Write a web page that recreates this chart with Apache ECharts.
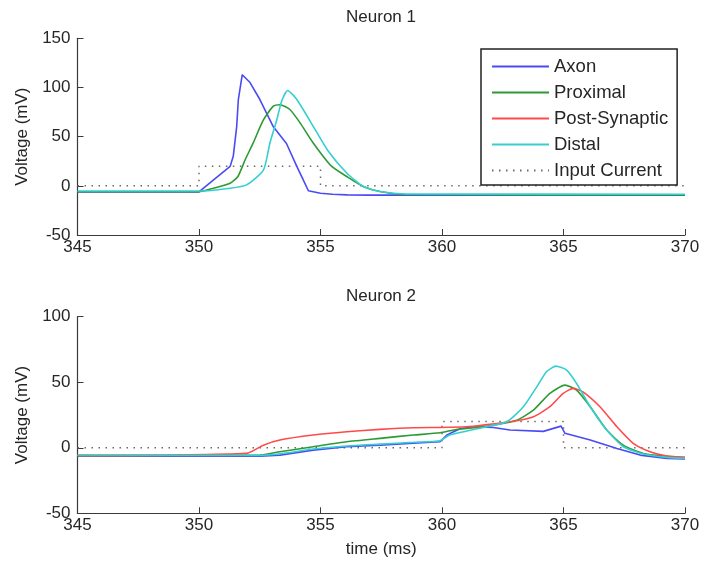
<!DOCTYPE html>
<html>
<head>
<meta charset="utf-8">
<script src="https://cdn.jsdelivr.net/npm/echarts@6/dist/echarts.min.js"></script>
<style>html,body{margin:0;padding:0;background:#fff;}#c{width:720px;height:565px;}</style>
</head>
<body>
<div id="c"></div>
<script>
// ---------- Neuron 1 ----------
var n1AxonT = [345, 350, 350.6, 351.28, 351.41, 351.55, 351.62, 351.78, 352.1, 352.5, 353.06, 353.6, 354.02, 354.29, 354.5, 355, 355.5, 356.1, 357, 360, 365, 370];
var n1AxonV = [-6.2, -6.2, 6, 19.7, 30, 60, 88, 113, 105, 88, 60, 43, 20, 6, -5, -7.5, -8.5, -9.2, -9.5, -9.5, -9.5, -9.5];
var n1ProxT = [345, 350, 350.6, 351.28, 351.6, 351.9, 352.23, 352.65, 353.06, 353.33, 353.74, 354.16, 354.7, 355.45, 356.08, 356.76, 357.45, 358.5, 370];
var n1ProxV = [-6, -6, -2.4, 2.7, 9.5, 26.5, 43.6, 67, 81, 82.5, 77.6, 64, 43.6, 20, 9.5, -0.7, -5.8, -8.8, -9.3];
var n1DistT = [345, 350, 351.28, 351.96, 352.65, 352.92, 353.2, 353.4, 353.65, 354.02, 354.7, 355.3, 356.08, 356.76, 357.45, 358.5, 370];
var n1DistV = [-5.3, -5.3, -2.4, 1, 16, 43.6, 67, 86, 97, 88, 60.5, 36, 13, -0.7, -5.8, -8.3, -8.5];
var n1InT = [345, 350, 350, 355, 355, 370];
var n1InV = [0, 0, 20, 20, 0, 0];

// ---------- Neuron 2 ----------
var n2AxonT = [345, 352.5, 353.33, 354.7, 356.08, 357.45, 358.82, 359.92, 360.2, 360.74, 361.3, 362.11, 362.8, 364.17, 364.9, 365.06, 366.1, 367.2, 368.15, 369.25, 370];
var n2AxonV = [-6.2, -6.5, -5.6, -1.8, 0.8, 2, 3.4, 4.6, 9.7, 14.5, 16, 15.5, 13.5, 12.5, 16.5, 11, 5.9, -0.5, -5.6, -8.1, -8.5];
var n2ProxT = [345, 352.5, 353.33, 354.7, 356.08, 357.45, 358.82, 359.92, 360.6, 361.7, 363.07, 363.76, 364.44, 365.06, 365.54, 366.1, 366.78, 367.46, 368.28, 369.25, 370];
var n2ProxV = [-6, -5.6, -3, 0.8, 4.6, 7.2, 9.7, 11.4, 14, 16, 21, 28.7, 41.5, 47.8, 44, 31.3, 13.5, 2, -4.3, -6.5, -7.5];
var n2PostT = [345, 351.96, 352.65, 353.33, 354.7, 356.08, 357.45, 358.82, 359.92, 361.0, 361.7, 363.07, 363.76, 364.44, 364.99, 365.4, 365.8, 366.5, 367.2, 367.87, 368.56, 369.25, 370];
var n2PostV = [-5.8, -4.3, 2, 5.9, 9.7, 12.2, 14, 15.3, 15.5, 16, 17.3, 20.6, 23.6, 31.3, 41.5, 45.3, 42.7, 31.3, 16, 3.4, -3, -6.3, -7.3];
var n2DistT = [345, 352.5, 353.33, 354.7, 356.08, 357.45, 358.82, 359.92, 360.32, 361.7, 362.66, 363.35, 363.9, 364.3, 364.69, 365.13, 365.54, 366.1, 366.78, 367.46, 368.28, 369.25, 370];
var n2DistV = [-5.5, -5.8, -4.6, -1, 1.4, 2.8, 4.2, 5.4, 9.7, 15.5, 19.8, 31.3, 46.5, 58, 62.3, 59.2, 49, 31.3, 13.5, 0.8, -4.8, -7.3, -8];
var n2InT = [345, 360, 360, 365, 365, 370];
var n2InV = [0, 0, 20, 20, 0, 0];

var names = ['Axon', 'Proximal', 'Post-Synaptic', 'Distal', 'Input Current'];

function pairs(t, v) { return t.map(function (x, i) { return [x, v[i]]; }); }

var FONT = 'Liberation Sans, Arial, sans-serif';
var C = { Axon: '#4b4bf5', Proximal: '#2e9a35', 'Post-Synaptic': '#ff4a4a', Distal: '#36cfcf', 'Input Current': '#6a6a6a' };

function ser(name, t, v, idx, smooth) {
  var s = {
    name: name, type: 'line', xAxisIndex: idx, yAxisIndex: idx,
    data: pairs(t, v), symbol: 'none', showSymbol: false, smooth: smooth || false,
    lineStyle: { color: C[name], width: 1.6 }, itemStyle: { color: C[name] },
    animation: false
  };
  if (name === 'Input Current') s.lineStyle = { color: C[name], width: 1.5, type: [1.5, 5.5] };
  return s;
}

function xAx(idx, withName) {
  var a = {
    type: 'value', gridIndex: idx, min: 345, max: 370, interval: 5,
    axisLine: { show: true, onZero: false, lineStyle: { color: '#3a3a3a', width: 1.2 } },
    axisTick: { show: true, inside: true, length: 6, lineStyle: { color: '#3a3a3a' } },
    axisLabel: { fontSize: 17, color: '#262626', margin: 4, fontFamily: FONT },
    splitLine: { show: false }
  };
  if (withName) {
    a.name = 'time (ms)'; a.nameLocation = 'middle'; a.nameGap = 28;
    a.nameTextStyle = { fontSize: 17, color: '#262626', fontFamily: FONT };
  }
  return a;
}
function yAx(idx, max) {
  return {
    type: 'value', gridIndex: idx, min: -50, max: max, interval: 50,
    name: 'Voltage (mV)', nameLocation: 'middle', nameGap: 46,
    nameTextStyle: { fontSize: 17, color: '#262626', fontFamily: FONT },
    axisLine: { show: true, onZero: false, lineStyle: { color: '#3a3a3a', width: 1.2 } },
    axisTick: { show: true, inside: true, length: 6, lineStyle: { color: '#3a3a3a' } },
    axisLabel: { fontSize: 17, color: '#262626', margin: 7, fontFamily: FONT },
    splitLine: { show: false }
  };
}

var chart = echarts.init(document.getElementById('c'), null, { renderer: 'canvas' });
chart.setOption({
  animation: false,
  backgroundColor: '#ffffff',
  textStyle: { fontFamily: FONT },
  title: [
    { text: 'Neuron 1', left: 381, top: 9, textAlign: 'center', padding: 0,
      textStyle: { fontSize: 17, fontWeight: 'normal', color: '#262626', fontFamily: FONT } },
    { text: 'Neuron 2', left: 381, top: 288, textAlign: 'center', padding: 0,
      textStyle: { fontSize: 17, fontWeight: 'normal', color: '#262626', fontFamily: FONT } }
  ],
  grid: [
    { left: 77.5, width: 607.5, top: 38.3, height: 196.7 },
    { left: 77.5, width: 607.5, top: 316.7, height: 196.6 }
  ],
  legend: {
    data: names, orient: 'vertical', left: 481, top: 49,
    backgroundColor: '#ffffff', borderColor: '#222222', borderWidth: 1.5, borderRadius: 0,
    padding: [8, 9, 5, 10], itemWidth: 57, itemHeight: 14, itemGap: 7,
    itemStyle: { opacity: 0 },
    textStyle: { fontSize: 18.5, color: '#262626', fontFamily: FONT },
    selectedMode: false
  },
  xAxis: [xAx(0, false), xAx(1, true)],
  yAxis: [yAx(0, 150), yAx(1, 100)],
  series: [
    ser('Input Current', n1InT, n1InV, 0),
    ser('Axon', n1AxonT, n1AxonV, 0),
    ser('Proximal', n1ProxT, n1ProxV, 0, 0.2),
    ser('Distal', n1DistT, n1DistV, 0, 0.2),
    ser('Input Current', n2InT, n2InV, 1),
    ser('Axon', n2AxonT, n2AxonV, 1),
    ser('Proximal', n2ProxT, n2ProxV, 1, 0.2),
    ser('Post-Synaptic', n2PostT, n2PostV, 1, 0.2),
    ser('Distal', n2DistT, n2DistV, 1, 0.2)
  ]
});
</script>
</body>
</html>
